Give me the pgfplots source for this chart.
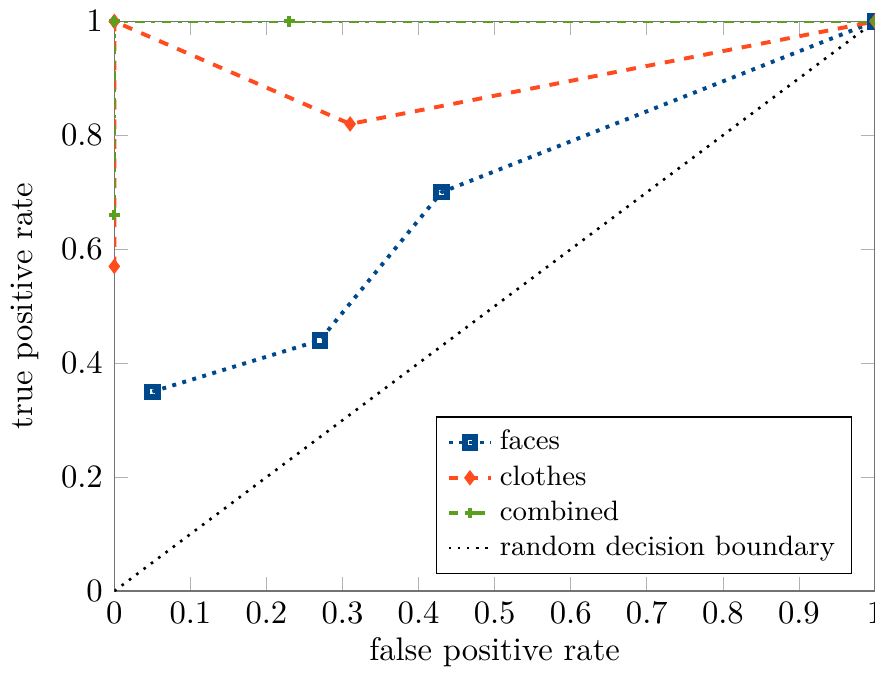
\documentclass[border=0pt]{standalone}
\usepackage{pgfplots}
\pgfplotsset{compat=1.18}
\definecolor{cblue}{RGB}{0,72,140}
\definecolor{cred}{RGB}{255,75,30}
\definecolor{cgreen}{RGB}{90,160,30}
\begin{document}
\begin{tikzpicture}[trim axis right]
\begin{axis}[
  scale only axis,
  width=233pt, height=174.5pt,
  xmin=0, xmax=1, ymin=0, ymax=1,
  xtick={0,0.1,...,1}, ytick={0,0.2,...,1},
  xlabel={false positive rate},
  ylabel={true positive rate},
  xlabel style={yshift=2.7pt, text depth=6.4pt},
  axis line style={gray!90!black},
  tick style={gray!60},
  legend pos=south east,
  legend cell align=left,
  legend style={font=\fontsize{8.6}{10}\selectfont, row sep=-0.7pt},
  legend image code/.code={%
    \draw[mark repeat=2,mark phase=2,#1] plot coordinates {(0cm,0cm) (0.23cm,0cm) (0.46cm,0cm)};},
  clip=true,
]
\addplot[color=cblue, very thick, dotted, mark=square, mark options={solid, line width=1.8pt}, mark size=1.6pt] coordinates {
  (0.05,0.35) (0.27,0.44) (0.43,0.70) (1,1)
};
\addlegendentry{faces}
\addplot[color=cred, very thick, dashed, mark=diamond*, mark options={solid}, mark size=1.4pt] coordinates {
  (0,0.57) (0,1) (0.31,0.82) (1,1)
};
\addlegendentry{clothes}
\addplot[color=cgreen, very thick, dash dot, mark=+, mark options={solid}, mark size=1.6pt] coordinates {
  (0,0.66) (0,1) (0.23,1) (1,1)
};
\addlegendentry{combined}
\addplot[black, thick, dotted] coordinates {
  (0,0) (1,1)
};
\addlegendentry{random decision boundary}
\end{axis}
\end{tikzpicture}
\end{document}
